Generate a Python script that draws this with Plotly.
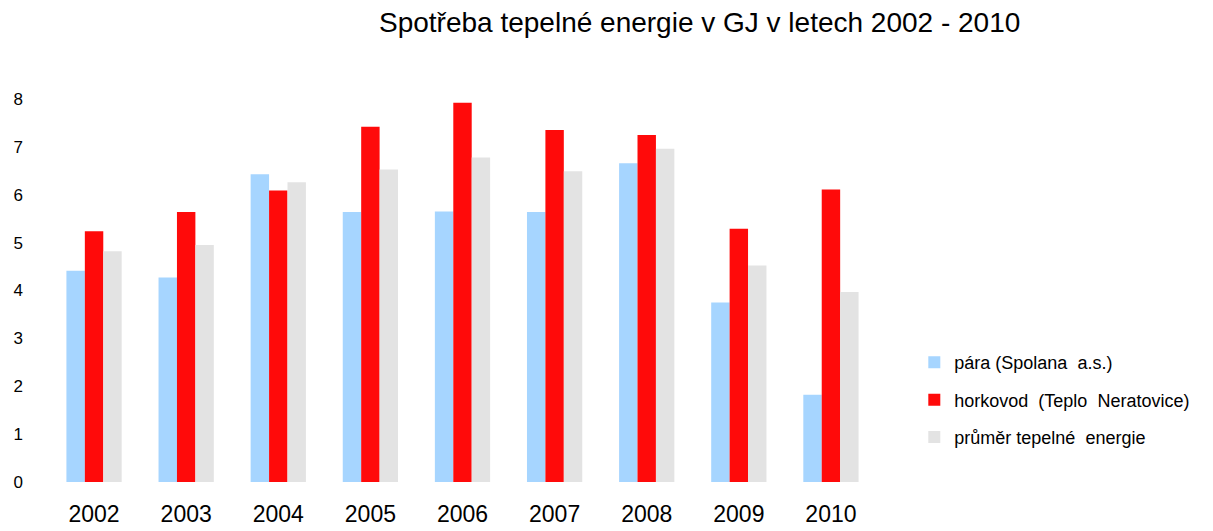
import plotly.graph_objects as go

years = ["2002", "2003", "2004", "2005", "2006", "2007", "2008", "2009", "2010"]
para = [4.41, 4.27, 6.43, 5.64, 5.65, 5.64, 6.66, 3.75, 1.82]
horkovod = [5.24, 5.64, 6.09, 7.42, 7.92, 7.35, 7.25, 5.29, 6.11]
prumer = [4.82, 4.95, 6.26, 6.53, 6.78, 6.49, 6.96, 4.52, 3.97]

names = ["pára (Spolana  a.s.)", "horkovod  (Teplo  Neratovice)", "průměr tepelné  energie"]
colors = ["#A6D5FF", "#FF0A0A", "#E3E3E3"]

fig = go.Figure()
for i, (nm, vals, col) in enumerate(zip(names, [para, horkovod, prumer], colors)):
    fig.add_trace(go.Bar(x=years, y=vals, name=nm, marker=dict(color=col, line=dict(width=0)),
                         legendgroup=str(i)))

FONT = "Liberation Sans, Arial, sans-serif"
fig.update_layout(
    width=1205, height=523,
    margin=dict(l=40, r=336, t=91, b=49, autoexpand=False),
    paper_bgcolor="white", plot_bgcolor="white",
    barmode="group", bargap=0.4, bargroupgap=0,
    font=dict(family=FONT, color="black"),
    title=dict(text="Spotřeba tepelné energie v GJ v letech 2002 - 2010",
               xref="container", x=0.574, xanchor="center",
               yref="container", y=0.973, yanchor="middle",
               font=dict(size=28, family=FONT, color="black")),
    showlegend=True,
    legend=dict(x=1.045, xanchor="left", y=0.36, yanchor="top",
                font=dict(size=18, family=FONT, color="black"),
                tracegroupgap=11, bgcolor="rgba(0,0,0,0)"),
    xaxis=dict(showgrid=False, showline=False, zeroline=False, ticks="",
               ticklabelstandoff=16, automargin=False,
               tickfont=dict(size=23, family=FONT, color="black")),
    yaxis=dict(range=[0, 8], dtick=1, showgrid=False, showline=False, zeroline=False,
               ticks="", ticklabelstandoff=24, automargin=False,
               tickfont=dict(size=17, family=FONT, color="black")),
)

fig.write_html("out.html")
